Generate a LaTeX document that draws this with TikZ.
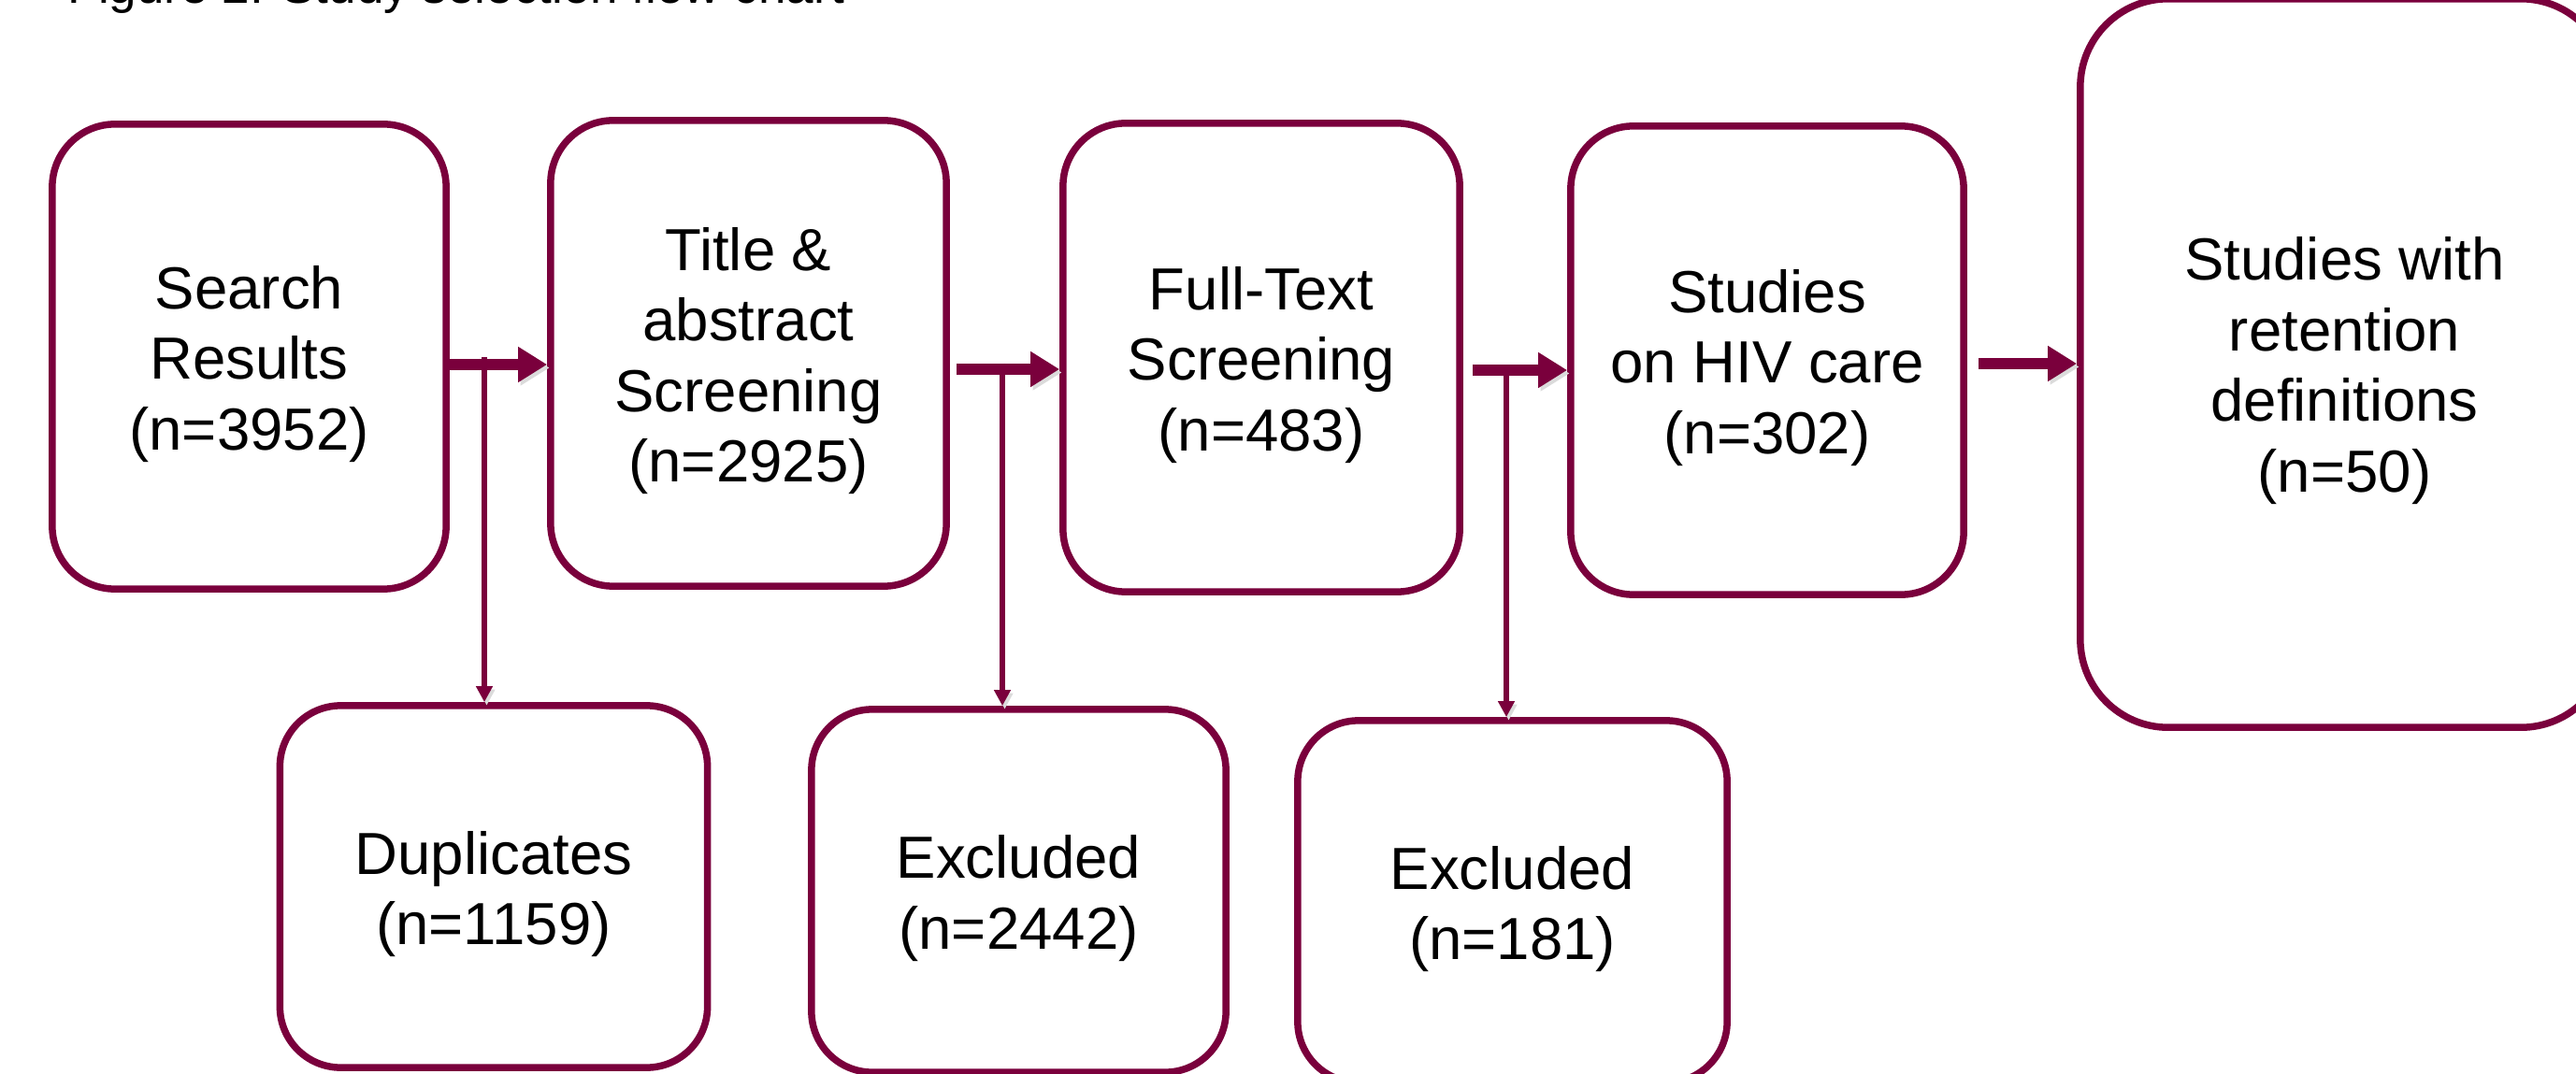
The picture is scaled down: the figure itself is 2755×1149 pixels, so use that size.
\documentclass[tikz,border=0pt]{standalone}
\usepackage{fontspec}
\setmainfont{Liberation Sans}
\usetikzlibrary{arrows.meta}
\definecolor{brandred}{RGB}{122,0,60}
\begin{document}
\begin{tikzpicture}[x=0.01cm,y=-0.01cm,
  box/.style={draw=brandred, line width=0.075cm, rounded corners=0.67cm, inner sep=0pt,
    label={[boxtext]center:#1}},
  boxtext/.style={align=center, inner sep=0pt, yshift=-0.08cm, text=black,
    font=\fontsize{18.07}{21.5}\selectfont},
  shade/.style={preaction={draw=black!14, transform canvas={shift={(0.025cm,-0.035cm)}}}},
  flow/.style={draw=brandred, line width=0.11cm, -{Triangle[length=0.31cm,width=0.36cm]}, shade},
  drop/.style={draw=brandred, line width=0.055cm, -{Triangle[length=0.17cm,width=0.17cm]}, shade},
]
\useasboundingbox (0,0) rectangle (2755,1149);
\clip (0,0) rectangle (2755,1149);

\node[anchor=base west, inner sep=0pt, text=black, font=\fontsize{15.08}{18}\selectfont] (cap) at (72,4) {Figure 2: Study selection flow chart};

% top row
\node[box={Search\\Results\\(n=3952)}, minimum width=4.21cm, minimum height=4.97cm] (b1) at (266.5,381.5) {};
\node[box={Title \&\\abstract\\Screening\\(n=2925)}, minimum width=4.23cm, minimum height=4.98cm] (b2) at (800.5,378) {};
\node[box={Full-Text\\Screening\\(n=483)}, minimum width=4.24cm, minimum height=5.01cm] (b3) at (1349,382.5) {};
\node[box={Studies\\on HIV care\\(n=302)}, minimum width=4.20cm, minimum height=5.01cm] (b4) at (1890,385.5) {};
\node[box={Studies with\\retention\\definitions\\(n=50)}, rounded corners=0.94cm, minimum width=5.65cm, minimum height=7.79cm] (b5) at (2507.5,388.5) {};

% bottom row
\node[box={Duplicates\\(n=1159)}, rounded corners=0.65cm, minimum width=4.57cm, minimum height=3.87cm] (d1) at (528,948.5) {};
\node[box={Excluded\\(n=2442)}, rounded corners=0.65cm, minimum width=4.43cm, minimum height=3.88cm] (d2) at (1089.5,953) {};
\node[box={Excluded\\(n=181)}, rounded corners=0.65cm, minimum width=4.59cm, minimum height=3.87cm] (d3) at (1617.5,964.5) {};

% connector levels
\coordinate (r1) at (0,390);
\coordinate (r2) at (0,395);
\coordinate (r3) at (0,396);
\coordinate (r4) at (0,389);
\coordinate (v1) at (518,382);
\coordinate (v2) at (1072,389);
\coordinate (v3) at (1611,391);

% vertical drops
\draw[drop] (v1) -- (v1 |- d1.north);
\draw[drop] (v2) -- (v2 |- d2.north);
\draw[drop] (v3) -- (v3 |- d3.north);

% horizontal flow arrows
\draw[flow] (b1.east |- r1) -- (b2.west |- r1);
\draw[flow, shorten <=0.07cm] (b2.east |- r2) -- (b3.west |- r2);
\draw[flow, shorten <=0.10cm] (b3.east |- r3) -- (b4.west |- r3);
\draw[flow, shorten <=0.12cm] (b4.east |- r4) -- (b5.west |- r4);
\end{tikzpicture}
\end{document}
